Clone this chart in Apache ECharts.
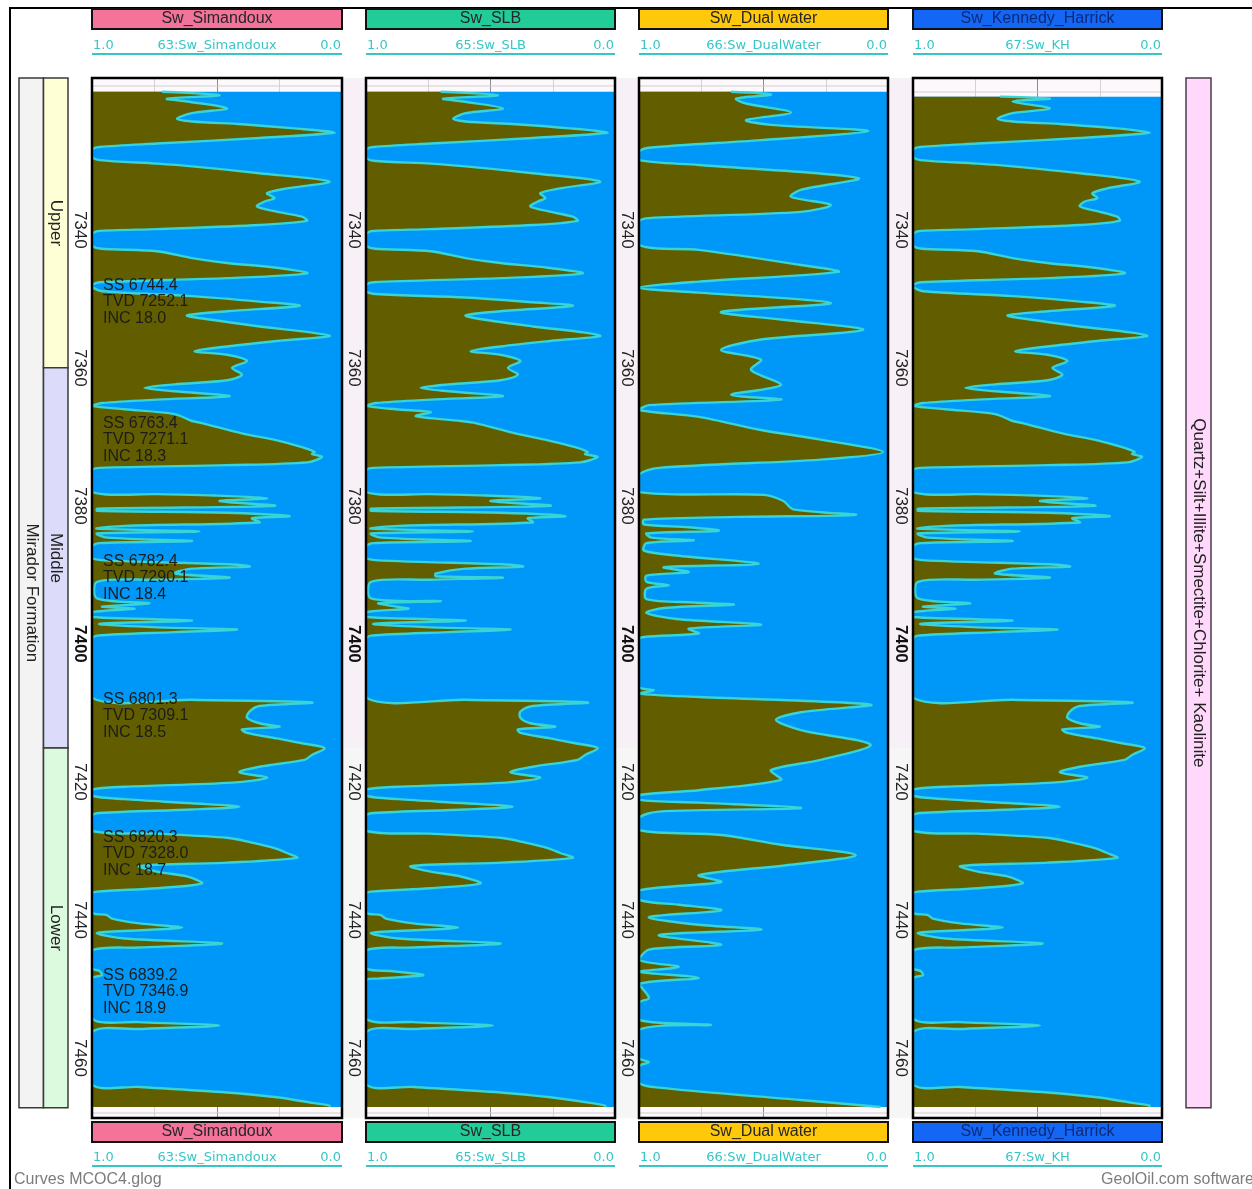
<!DOCTYPE html>
<html><head><meta charset="utf-8">
<script src="https://cdn.jsdelivr.net/npm/echarts@6/dist/echarts.min.js"></script>
<style>html,body{margin:0;padding:0;background:#fff}#c{width:1252px;height:1189px}</style>
</head><body><div id="c"></div><script>
// ---------------- DATA ----------------
const depthTicks = [7340, 7360, 7380, 7400, 7420, 7440, 7460];
const boldDepth = 7400;
const trackTitles = ['Sw_Simandoux', 'Sw_SLB', 'Sw_Dual water', 'Sw_Kennedy_Harrick'];
const curveNames = ['63:Sw_Simandoux', '65:Sw_SLB', '66:Sw_DualWater', '67:Sw_KH'];
const scaleLeft = '1.0', scaleRight = '0.0';

const simDepth = [7320.0,7320.5,7321.0,7321.4,7322.4,7323.1,7323.9,7324.3,7324.7,7325.3,7325.9,7326.7,7327.5,7328.0,7328.4,7329.4,7329.9,7330.4,7330.8,7331.8,7333.0,7334.0,7334.7,7335.4,7335.9,7336.6,7337.3,7338.1,7338.7,7339.3,7339.9,7340.2,7340.7,7342.2,7342.7,7343.1,7344.1,7344.8,7345.5,7346.3,7347.0,7347.6,7348.0,7348.3,7348.9,7349.6,7350.4,7351.0,7351.8,7352.4,7353.0,7354.0,7354.9,7355.4,7356.1,7356.9,7357.6,7358.1,7359.0,7360.0,7361.0,7361.8,7362.4,7362.9,7363.4,7364.1,7364.6,7365.1,7365.5,7366.0,7366.7,7367.7,7368.0,7369.5,7370.5,7371.5,7372.2,7372.5,7372.9,7373.7,7374.1,7374.5,7374.9,7378.0,7378.3,7378.5,7378.9,7379.3,7380.0,7380.4,7380.7,7381.0,7381.5,7381.8,7382.4,7382.9,7383.3,7383.7,7384.0,7384.6,7385.1,7385.4,7385.9,7387.6,7388.0,7388.5,7388.8,7389.1,7389.8,7390.4,7390.7,7391.0,7393.4,7394.1,7394.6,7394.9,7395.4,7396.1,7396.6,7397.1,7397.6,7397.9,7398.3,7398.8,7399.3,7407.8,7408.1,7408.5,7409.0,7409.8,7410.7,7411.5,7412.0,7412.4,7412.9,7413.7,7414.4,7415.1,7416.1,7416.8,7417.8,7418.6,7419.4,7420.1,7420.7,7421.1,7422.0,7422.5,7423.1,7423.6,7424.0,7424.5,7424.9,7427.1,7427.5,7428.1,7428.8,7429.6,7430.3,7431.0,7431.7,7432.2,7433.0,7433.7,7434.7,7435.4,7435.9,7436.2,7438.9,7439.3,7439.8,7440.5,7441.1,7441.5,7441.9,7442.7,7443.4,7444.0,7444.4,7447.0,7447.4,7448.0,7448.5,7454.3,7454.8,7455.3,7455.8,7456.3,7463.8,7464.2,7465.0,7465.7,7466.5,7466.9,7467.1];
const simSw = [0.72,0.49,0.70,0.62,0.46,0.60,0.66,0.60,0.40,0.19,0.03,0.33,0.74,0.97,1.0,1.0,0.97,0.74,0.60,0.33,0.05,0.22,0.30,0.27,0.31,0.34,0.27,0.16,0.14,0.33,0.74,0.98,1.0,1.0,0.97,0.74,0.60,0.46,0.26,0.14,0.46,0.97,1.0,1.0,0.96,0.60,0.33,0.17,0.46,0.62,0.53,0.33,0.12,0.05,0.26,0.46,0.59,0.46,0.38,0.44,0.40,0.46,0.67,0.79,0.67,0.45,0.74,0.96,1.0,0.87,0.67,0.60,0.56,0.40,0.26,0.16,0.11,0.12,0.08,0.14,0.46,0.97,1.0,1.0,0.74,0.51,0.30,0.49,0.27,0.98,0.98,0.46,0.21,0.36,0.33,0.87,0.98,0.57,0.98,0.94,0.60,0.97,1.0,1.0,0.87,0.44,0.37,0.60,0.67,0.45,0.74,0.98,0.98,0.77,0.96,0.83,1.0,1.0,0.60,0.97,0.74,0.42,0.67,0.98,1.0,1.0,0.60,0.12,0.33,0.37,0.38,0.33,0.25,0.40,0.38,0.26,0.16,0.07,0.12,0.15,0.33,0.41,0.30,0.44,0.87,1.0,1.0,0.87,0.60,0.41,0.60,0.97,1.0,1.0,0.74,0.46,0.36,0.27,0.22,0.18,0.46,0.81,0.74,0.62,0.56,0.74,0.98,1.0,1.0,0.94,0.92,0.81,0.64,0.81,0.98,0.87,0.48,0.81,1.0,1.0,0.97,0.96,1.0,1.0,0.81,0.49,0.81,1.0,1.0,0.81,0.46,0.26,0.12,0.05,0.05];

const slbDepth = [7320.0,7320.5,7321.0,7321.4,7322.4,7323.1,7323.9,7324.3,7324.7,7325.3,7325.9,7326.7,7327.5,7328.0,7328.4,7329.5,7330.0,7330.4,7330.8,7331.8,7333.0,7334.0,7334.7,7335.4,7335.9,7336.6,7337.3,7338.1,7338.7,7339.3,7339.9,7340.2,7340.7,7342.2,7342.7,7343.1,7344.1,7344.8,7345.5,7346.3,7347.0,7347.6,7348.0,7348.9,7349.3,7349.8,7350.5,7351.0,7351.8,7352.4,7353.0,7354.0,7354.9,7355.4,7356.1,7356.9,7357.6,7358.1,7359.0,7360.0,7361.0,7361.8,7362.4,7362.9,7363.4,7364.1,7364.6,7365.1,7365.5,7366.0,7366.4,7367.0,7367.7,7368.0,7369.5,7370.5,7371.5,7372.2,7372.5,7372.9,7373.7,7374.1,7374.5,7374.9,7378.0,7378.3,7378.5,7378.9,7379.3,7380.0,7380.4,7380.7,7381.0,7381.5,7381.8,7382.4,7382.9,7383.3,7383.7,7384.0,7384.6,7385.1,7385.4,7385.9,7387.6,7388.0,7388.5,7388.8,7389.1,7389.8,7390.2,7390.4,7390.7,7391.0,7393.4,7393.8,7394.1,7394.6,7394.9,7395.4,7396.1,7396.6,7397.1,7397.6,7397.9,7398.3,7398.8,7399.3,7407.8,7408.1,7408.5,7409.0,7409.8,7410.7,7411.5,7412.0,7412.4,7412.9,7413.7,7414.4,7415.1,7416.1,7416.8,7417.8,7418.6,7419.4,7420.1,7420.7,7421.1,7422.0,7422.5,7423.1,7423.6,7424.0,7424.5,7424.9,7427.1,7427.5,7428.1,7428.8,7429.6,7430.3,7431.0,7431.7,7432.2,7433.0,7433.7,7434.7,7435.4,7435.9,7436.2,7438.9,7439.3,7439.8,7440.5,7441.1,7441.5,7441.9,7442.7,7443.4,7444.0,7444.4,7447.0,7447.4,7448.0,7448.5,7448.8,7454.3,7454.8,7455.3,7455.8,7456.3,7463.8,7464.2,7465.0,7465.7,7466.5,7466.9,7467.1];
const slbSw = [0.70,0.47,0.69,0.61,0.45,0.60,0.65,0.60,0.40,0.18,0.03,0.33,0.74,0.97,1.0,1.0,0.97,0.74,0.60,0.33,0.06,0.22,0.30,0.28,0.31,0.34,0.27,0.17,0.15,0.33,0.74,0.98,1.0,1.0,0.97,0.74,0.60,0.46,0.27,0.13,0.46,0.97,1.0,1.0,0.96,0.60,0.33,0.17,0.46,0.60,0.53,0.33,0.12,0.06,0.26,0.46,0.58,0.46,0.38,0.43,0.39,0.46,0.67,0.78,0.67,0.45,0.74,0.96,1.0,0.88,0.74,0.80,0.62,0.56,0.40,0.27,0.16,0.11,0.12,0.07,0.14,0.46,0.97,1.0,1.0,0.74,0.52,0.30,0.50,0.26,0.98,0.98,0.46,0.20,0.35,0.33,0.87,0.98,0.57,0.98,0.94,0.58,0.97,1.0,1.0,0.87,0.44,0.37,0.60,0.72,0.72,0.45,0.74,0.98,0.98,0.70,0.95,0.88,0.83,1.0,1.0,0.60,0.97,0.74,0.42,0.67,0.98,1.0,1.0,0.60,0.11,0.33,0.38,0.38,0.34,0.24,0.39,0.38,0.26,0.16,0.07,0.12,0.15,0.33,0.42,0.30,0.44,0.87,1.0,1.0,0.87,0.60,0.41,0.60,0.97,1.0,1.0,0.74,0.46,0.36,0.27,0.22,0.17,0.46,0.82,0.74,0.62,0.54,0.74,0.98,1.0,1.0,0.94,0.92,0.81,0.63,0.81,0.98,0.87,0.46,0.81,1.0,1.0,0.90,0.77,0.95,1.0,1.0,0.81,0.49,0.81,1.0,1.0,0.81,0.46,0.26,0.10,0.04,0.04];

const dwDepth = [7320.0,7320.4,7321.0,7321.7,7323.0,7324.1,7324.8,7325.7,7327.0,7328.1,7328.7,7329.9,7330.6,7332.5,7334.2,7335.2,7336.4,7337.4,7338.3,7338.8,7342.2,7342.9,7345.1,7346.1,7347.5,7348.4,7349.1,7350.6,7351.9,7353.0,7354.5,7355.9,7357.4,7358.8,7360.3,7362.5,7363.9,7364.6,7365.4,7366.1,7367.1,7369.0,7370.4,7372.2,7373.3,7374.5,7375.5,7378.0,7378.4,7379.3,7380.5,7381.3,7381.6,7382.0,7382.7,7383.1,7383.6,7384.0,7384.6,7385.0,7385.4,7386.5,7387.2,7388.4,7388.9,7389.6,7390.1,7391.0,7391.5,7392.0,7393.5,7394.0,7394.3,7394.8,7395.5,7396.4,7397.2,7397.8,7398.5,7399.0,7399.4,7406.2,7406.7,7407.2,7407.7,7408.8,7409.9,7411.0,7412.5,7414.6,7416.8,7418.3,7419.7,7421.2,7421.9,7422.6,7423.0,7423.8,7424.3,7425.2,7427.0,7427.7,7429.1,7430.6,7432.0,7433.5,7434.5,7435.7,7437.1,7437.8,7438.6,7439.6,7440.7,7441.4,7442.2,7443.6,7444.3,7445.8,7446.8,7447.5,7448.4,7449.3,7451.3,7452.0,7454.5,7455.2,7455.9,7460.0,7460.6,7461.2,7463.6,7464.3,7466.1,7467.1];
const dwSw = [0.63,0.47,0.61,0.57,0.39,0.57,0.47,0.08,0.51,0.96,1.0,1.0,0.76,0.12,0.35,0.39,0.23,0.35,0.96,1.0,1.0,0.76,0.35,0.20,0.76,1.0,0.76,0.23,0.67,0.43,0.10,0.51,0.67,0.51,0.55,0.43,0.63,0.43,0.96,1.0,0.76,0.51,0.27,0.02,0.27,0.92,1.0,1.0,0.50,0.42,0.38,0.13,0.60,0.98,0.98,0.80,0.68,0.97,0.95,0.78,0.97,0.98,0.85,0.52,0.90,0.80,0.97,0.97,0.88,0.97,0.97,0.78,0.62,0.90,0.97,0.85,0.51,0.80,0.76,0.98,1.0,1.0,0.94,1.0,0.76,0.07,0.35,0.45,0.35,0.07,0.27,0.47,0.43,0.76,1.0,1.0,0.76,0.35,0.92,1.0,1.0,0.67,0.43,0.13,0.39,0.76,0.67,1.0,1.0,0.84,0.67,0.96,0.76,0.51,0.92,0.67,0.96,1.0,0.84,1.0,0.76,1.0,0.96,1.0,1.0,0.71,1.0,1.0,0.96,1.0,1.0,0.92,0.35,0.03];

const khDepth = [7320.7,7321.0,7321.4,7322.4,7323.1,7323.9,7324.3,7324.7,7325.3,7325.9,7326.7,7327.5,7328.0,7328.4,7329.4,7329.9,7330.4,7330.8,7331.8,7333.0,7334.0,7334.7,7335.4,7335.9,7336.6,7337.3,7338.1,7338.7,7339.3,7339.9,7340.2,7340.7,7342.2,7342.7,7343.1,7344.1,7344.8,7345.5,7346.3,7347.0,7347.6,7348.0,7348.3,7348.9,7349.6,7350.4,7351.0,7351.8,7352.4,7353.0,7354.0,7354.9,7355.4,7356.1,7356.9,7357.6,7358.1,7359.0,7360.0,7361.0,7361.8,7362.4,7362.9,7363.4,7364.1,7364.6,7365.1,7365.5,7366.0,7366.7,7367.7,7368.0,7369.5,7370.5,7371.5,7372.2,7372.5,7372.9,7373.7,7374.1,7374.5,7374.9,7378.0,7378.3,7378.5,7378.9,7379.3,7380.0,7380.4,7380.7,7381.0,7381.5,7381.8,7382.4,7382.9,7383.3,7383.7,7384.0,7384.6,7385.1,7385.4,7385.9,7387.6,7388.0,7388.5,7388.8,7389.1,7389.8,7390.4,7390.7,7391.0,7393.4,7394.1,7394.6,7394.9,7395.4,7396.1,7396.6,7397.1,7397.6,7397.9,7398.3,7398.8,7399.3,7407.8,7408.1,7408.5,7409.0,7409.8,7410.7,7411.5,7412.0,7412.4,7412.9,7413.7,7414.4,7415.1,7416.1,7416.8,7417.8,7418.6,7419.4,7420.1,7420.7,7421.1,7422.0,7422.5,7423.1,7423.6,7424.0,7424.5,7424.9,7427.1,7427.5,7428.1,7428.8,7429.6,7430.3,7431.0,7431.7,7432.2,7433.0,7433.7,7434.7,7435.4,7435.9,7436.2,7438.9,7439.3,7439.8,7440.5,7441.1,7441.5,7441.9,7442.7,7443.4,7444.0,7444.4,7447.0,7447.4,7448.0,7448.5,7454.3,7454.8,7455.3,7455.8,7456.3,7463.8,7464.2,7465.0,7465.7,7466.5,7466.9,7467.1];
const khSw = [0.65,0.45,0.60,0.45,0.60,0.66,0.60,0.40,0.18,0.05,0.33,0.74,0.97,1.0,1.0,0.97,0.74,0.60,0.33,0.09,0.22,0.28,0.26,0.31,0.33,0.26,0.18,0.17,0.33,0.74,0.98,1.0,1.0,0.97,0.74,0.60,0.46,0.27,0.15,0.46,0.97,1.0,1.0,0.96,0.60,0.33,0.19,0.46,0.62,0.53,0.33,0.12,0.06,0.26,0.46,0.59,0.46,0.38,0.44,0.40,0.46,0.67,0.79,0.67,0.45,0.74,0.96,1.0,0.87,0.67,0.60,0.56,0.40,0.26,0.16,0.11,0.12,0.08,0.14,0.46,0.97,1.0,1.0,0.74,0.51,0.30,0.49,0.27,0.98,0.98,0.46,0.21,0.36,0.33,0.87,0.98,0.57,0.98,0.94,0.60,0.97,1.0,1.0,0.87,0.44,0.37,0.60,0.67,0.45,0.74,0.98,0.98,0.77,0.96,0.83,1.0,1.0,0.60,0.97,0.74,0.42,0.67,0.98,1.0,1.0,0.60,0.12,0.33,0.37,0.38,0.33,0.25,0.40,0.38,0.26,0.16,0.07,0.12,0.15,0.33,0.41,0.30,0.44,0.87,1.0,1.0,0.87,0.60,0.41,0.60,0.97,1.0,1.0,0.74,0.46,0.36,0.27,0.22,0.18,0.46,0.81,0.74,0.62,0.56,0.74,0.98,1.0,1.0,0.94,0.92,0.81,0.64,0.81,0.98,0.87,0.48,0.81,1.0,1.0,0.97,0.96,1.0,1.0,0.81,0.49,0.81,1.0,1.0,0.81,0.46,0.26,0.12,0.05,0.05];

const zoneNames = ['Upper', 'Middle', 'Lower'];
const zoneTop = [7318, 7360, 7415.1];
const zoneBase = [7360, 7415.1, 7467.2];
const formationName = 'Mirador Formation';
const formationTop = 7318, formationBase = 7467.2;
const lithologyName = 'Quartz+Silt+Illite+Smectite+Chlorite+ Kaolinite';

const annotDepth = [7350, 7370, 7390, 7410, 7430, 7450];
const annotSS = [6744.4, 6763.4, 6782.4, 6801.3, 6820.3, 6839.2];
const annotTVD = [7252.1, 7271.1, 7290.1, 7309.1, 7328.0, 7346.9];
const annotINC = [18.0, 18.3, 18.4, 18.5, 18.7, 18.9];

const footerLeft = 'Curves MCOC4.glog';
const footerRight = 'GeolOil.com software';

// ---------------- LAYOUT / STYLE ----------------
const FONT = '"Liberation Sans", Arial, sans-serif';
const TX = [92, 366, 639, 913], TW = [250, 249, 249, 249];
const TOP = 78, HGT = 1040;
const DMIN = 7318, DMAX = 7468.7;
const titleColors = ['#f3739b', '#22cc98', '#ffc80a', '#1466f4'];
const titleText = ['#262626', '#262626', '#262626', '#0c2a78'];
const OLIVE = '#625e00', BLUE = '#0098f8', CURVE = '#38d4d6', SCALE = '#36c6c6';
const SMOOTH = 0.3;
const curves = [[simDepth, simSw], [slbDepth, slbSw], [dwDepth, dwSw], [khDepth, khSw]];

const grid = [], xAxis = [], yAxis = [], series = [];
for (let i = 0; i < 4; i++) {
  grid.push({left: TX[i], top: TOP, width: TW[i], height: HGT, show: true, backgroundColor: '#fcf8fb', borderWidth: 0});
  xAxis.push({gridIndex: i, type: 'value', min: 0, max: 1, interval: 0.25, inverse: true,
    axisLabel: {show: false}, axisTick: {show: false}, axisLine: {show: false},
    splitLine: {show: true, lineStyle: {color: ['#d4d4d4', '#d4d4d4', '#8c8c8c', '#d4d4d4', '#d4d4d4'], width: 1}}});
  yAxis.push({gridIndex: i, type: 'value', min: DMIN, max: DMAX, interval: 2, inverse: true,
    axisLine: {show: false}, axisTick: {show: false}, splitLine: {show: false},
    axisLabel: {show: true, rotate: -90, margin: 4, fontFamily: FONT, fontSize: 17, color: '#222',
      showMinLabel: true, showMaxLabel: false,
      formatter: v => { const r = Math.round(v); if (Math.abs(v - r) > 1e-6 || depthTicks.indexOf(r) < 0) return ''; return r === boldDepth ? '{b|' + r + '}' : String(r); },
      rich: {b: {fontWeight: 'bold', fontSize: 17, fontFamily: FONT, color: '#111'}}}});
}
grid.push({left: 19, top: TOP, width: 49, height: HGT, show: false});
xAxis.push({gridIndex: 4, type: 'value', min: 0, max: 2, show: false});
yAxis.push({gridIndex: 4, type: 'value', min: DMIN, max: DMAX, inverse: true, show: false});
grid.push({left: 1186, top: TOP, width: 25, height: HGT, show: false});
xAxis.push({gridIndex: 5, type: 'value', min: 0, max: 1, show: false});
yAxis.push({gridIndex: 5, type: 'value', min: DMIN, max: DMAX, inverse: true, show: false});

curves.forEach(([dep, sw], i) => {
  series.push({type: 'custom', name: curveNames[i], xAxisIndex: i, yAxisIndex: i, data: [[0.5, dep[0]]], silent: true, z: 2, clip: true,
    renderItem: (params, api) => {
      const pts = dep.map((d, k) => api.coord([sw[k], d]));
      const n = dep.length;
      const tl = api.coord([1, dep[0]]), br = api.coord([0, dep[n - 1]]);
      const bl = api.coord([1, dep[n - 1]]);
      // keep the smoothing inside the curve's own extent
      const mn = [Infinity, Infinity], mx = [-Infinity, -Infinity];
      pts.forEach(p => { mn[0] = Math.min(mn[0], p[0]); mn[1] = Math.min(mn[1], p[1]); mx[0] = Math.max(mx[0], p[0]); mx[1] = Math.max(mx[1], p[1]); });
      mn[0] = Math.min(mn[0], tl[0]); mn[1] = Math.min(mn[1], tl[1]); mx[1] = Math.max(mx[1], bl[1]);
      const cons = [mn, mx];
      const olive = [tl].concat(pts, [bl]);
      return {type: 'group', children: [
        {type: 'rect', shape: {x: tl[0], y: tl[1], width: br[0] - tl[0], height: br[1] - tl[1]}, style: {fill: BLUE}},
        {type: 'polygon', shape: {points: olive, smooth: SMOOTH, smoothConstraint: cons}, style: {fill: OLIVE}},
        {type: 'polyline', shape: {points: pts, smooth: SMOOTH, smoothConstraint: cons}, style: {fill: null, stroke: CURVE, lineWidth: 2.4}}
      ]};
    }});
});

// annotations in track 1
series.push({type: 'custom', xAxisIndex: 0, yAxisIndex: 0, data: annotDepth.map((d, k) => [1, d, k]), silent: true, z: 5,
  renderItem: (params, api) => {
    const k = params.dataIndex;
    const p = api.coord([api.value(0), api.value(1)]);
    return {type: 'text', x: p[0] + 11, y: p[1] + 3,
      style: {text: 'SS ' + annotSS[k].toFixed(1) + '\nTVD ' + annotTVD[k].toFixed(1) + '\nINC ' + annotINC[k].toFixed(1),
        fill: '#1c1c1c', fontSize: 16, fontFamily: FONT, lineHeight: 16.5,
        align: 'left', verticalAlign: 'middle', textAlign: 'left', textVerticalAlign: 'middle'}};
  }});

function bandItem(api, x0, x1, d0, d1, fill, label, stroke) {
  const a = api.coord([x0, d0]), b = api.coord([x1, d1]);
  return {type: 'group', children: [
    {type: 'rect', shape: {x: a[0], y: a[1], width: b[0] - a[0], height: b[1] - a[1]}, style: {fill: fill, stroke: stroke, lineWidth: 1.5}},
    {type: 'text', x: (a[0] + b[0]) / 2, y: (a[1] + b[1]) / 2, rotation: -Math.PI / 2,
      style: {text: label, fill: '#222', fontSize: 17, fontFamily: FONT, align: 'center', verticalAlign: 'middle', textAlign: 'center', textVerticalAlign: 'middle'}}
  ]};
}
const zoneColors = ['#ffffd6', '#dcdcfa', '#dcfade'];
series.push({type: 'custom', xAxisIndex: 4, yAxisIndex: 4, data: [[0, formationTop]], silent: true,
  renderItem: (params, api) => bandItem(api, 0, 1, formationTop, formationBase, '#f3f3f3', formationName, '#3a3a3a')});
series.push({type: 'custom', xAxisIndex: 4, yAxisIndex: 4, data: zoneNames.map((n, k) => [1, zoneTop[k], k]), silent: true,
  renderItem: (params, api) => { const k = params.dataIndex; return bandItem(api, 1, 2, zoneTop[k], zoneBase[k], zoneColors[k], zoneNames[k], '#3a3a3a'); }});
series.push({type: 'custom', xAxisIndex: 5, yAxisIndex: 5, data: [[0, formationTop]], silent: true,
  renderItem: (params, api) => bandItem(api, 0, 1, formationTop, formationBase, '#ffd8fb', lithologyName, '#4a3c4a')});

// ---------------- GRAPHICS (frames, headers, footer) ----------------
const g = [];
[[342, 24], [615, 24], [888, 25]].forEach(([x, w]) => {
  g.push({type: 'rect', z: -10, silent: true, shape: {x: x, y: TOP, width: w, height: 670}, style: {fill: '#f7f0f6'}});
  g.push({type: 'rect', z: -10, silent: true, shape: {x: x, y: TOP + 670, width: w, height: HGT - 670}, style: {fill: '#f6f6f6'}});
});
g.push({type: 'rect', z: 50, silent: true, shape: {x: 10, y: 8, width: 1260, height: 1200}, style: {fill: null, stroke: '#000', lineWidth: 2}});
function txt(x, y, text, size, color, align, family) {
  return {type: 'text', z: 60, silent: true, x: x, y: y,
    style: {text: text, fill: color, fontSize: size, fontFamily: family || FONT, align: align, verticalAlign: 'middle', textAlign: align, textVerticalAlign: 'middle'}};
}
for (let i = 0; i < 4; i++) {
  const x = TX[i], w = TW[i];
  g.push({type: 'line', z: 1, silent: true, shape: {x1: x, y1: i === 3 ? 92 : 86, x2: x + w, y2: i === 3 ? 92 : 86}, style: {stroke: '#cfcfcf', lineWidth: 1}});
  g.push({type: 'line', z: 1, silent: true, shape: {x1: x, y1: 1113, x2: x + w, y2: 1113}, style: {stroke: '#cfcfcf', lineWidth: 1}});
  g.push({type: 'rect', z: 100, silent: true, shape: {x: x, y: TOP, width: w, height: HGT}, style: {fill: null, stroke: '#000', lineWidth: 2.5}});
  [[9, 46, 53], [1122, 1158, 1165]].forEach(([hy, sy, uy]) => {
    g.push({type: 'rect', z: 60, silent: true, shape: {x: x, y: hy, width: w, height: 20}, style: {fill: titleColors[i], stroke: '#111', lineWidth: 2}});
    g.push(txt(x + w / 2, hy + 10, trackTitles[i], 16, titleText[i], 'center'));
    g.push(txt(x + 1, sy, scaleLeft, 13, SCALE, 'left', '"DejaVu Sans", sans-serif'));
    g.push(txt(x + w / 2, sy, curveNames[i], 13, SCALE, 'center', '"DejaVu Sans", sans-serif'));
    g.push(txt(x + w - 1, sy, scaleRight, 13, SCALE, 'right', '"DejaVu Sans", sans-serif'));
    g.push({type: 'rect', z: 60, silent: true, shape: {x: x, y: uy, width: w, height: 2}, style: {fill: SCALE}});
  });
}
g.push(txt(14, 1180, footerLeft, 16, '#7c7c7c', 'left'));
g.push(txt(1254, 1180, footerRight, 16, '#7c7c7c', 'right'));

const chart = echarts.init(document.getElementById('c'), null, {renderer: 'canvas', width: 1252, height: 1189});
chart.setOption({animation: false, backgroundColor: '#ffffff', grid, xAxis, yAxis, series, graphic: g});
</script></body></html>
